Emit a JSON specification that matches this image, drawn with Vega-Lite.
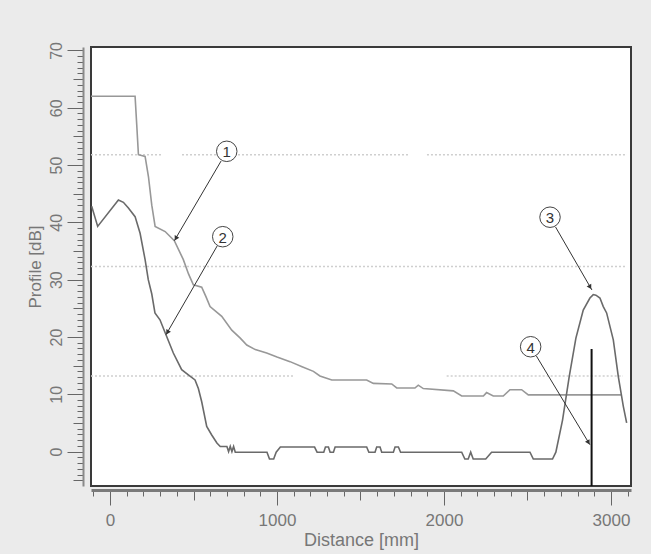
{
  "$schema": "https://vega.github.io/schema/vega-lite/v6.json",
  "width": 540,
  "height": 439,
  "autosize": {"type": "none"},
  "padding": {"left": 91, "top": 47, "right": 20, "bottom": 68},
  "background": "#ebebeb",
  "config": {
    "view": {"stroke": "#3a3a3a", "strokeWidth": 2, "fill": "white"},
    "font": "Liberation Sans"
  },
  "resolve": {"axis": {"x": "independent", "y": "independent"}},
  "datasets": {
    "tvt": [
      {"d": -114, "v": 62.0}, {"d": 150, "v": 62.0}, {"d": 160, "v": 57.0}, {"d": 170, "v": 51.8},
      {"d": 210, "v": 51.5}, {"d": 230, "v": 48.0}, {"d": 250, "v": 43.0}, {"d": 270, "v": 39.3},
      {"d": 330, "v": 38.4}, {"d": 385, "v": 36.8}, {"d": 439, "v": 33.5}, {"d": 470, "v": 31.0},
      {"d": 499, "v": 29.1}, {"d": 549, "v": 28.7}, {"d": 575, "v": 27.0}, {"d": 599, "v": 25.3},
      {"d": 669, "v": 23.6}, {"d": 729, "v": 21.2}, {"d": 780, "v": 19.8}, {"d": 819, "v": 18.6},
      {"d": 870, "v": 17.8}, {"d": 938, "v": 17.2}, {"d": 1000, "v": 16.5}, {"d": 1078, "v": 15.7},
      {"d": 1150, "v": 14.8}, {"d": 1218, "v": 14.0}, {"d": 1257, "v": 13.2}, {"d": 1297, "v": 12.8},
      {"d": 1328, "v": 12.5}, {"d": 1537, "v": 12.5}, {"d": 1577, "v": 11.9}, {"d": 1687, "v": 11.8},
      {"d": 1717, "v": 11.1}, {"d": 1826, "v": 11.1}, {"d": 1846, "v": 11.6}, {"d": 1876, "v": 11.0},
      {"d": 2056, "v": 10.6}, {"d": 2106, "v": 9.7}, {"d": 2236, "v": 9.7}, {"d": 2255, "v": 10.3},
      {"d": 2295, "v": 9.7}, {"d": 2355, "v": 9.7}, {"d": 2395, "v": 10.8}, {"d": 2465, "v": 10.8},
      {"d": 2505, "v": 9.9}, {"d": 3064, "v": 9.9}
    ],
    "profile": [
      {"d": -110, "v": 42.8}, {"d": -74, "v": 39.3}, {"d": 50, "v": 43.9}, {"d": 80, "v": 43.5},
      {"d": 110, "v": 42.5}, {"d": 150, "v": 41.0}, {"d": 180, "v": 38.1}, {"d": 210, "v": 33.5},
      {"d": 229, "v": 30.0}, {"d": 250, "v": 27.5}, {"d": 269, "v": 24.2}, {"d": 299, "v": 23.0},
      {"d": 335, "v": 20.4}, {"d": 379, "v": 17.2}, {"d": 429, "v": 14.3}, {"d": 469, "v": 13.4},
      {"d": 509, "v": 12.5}, {"d": 529, "v": 11.0}, {"d": 549, "v": 8.7}, {"d": 579, "v": 4.4},
      {"d": 609, "v": 2.9}, {"d": 640, "v": 1.5}, {"d": 660, "v": 0.9}, {"d": 700, "v": 0.9},
      {"d": 710, "v": 0.0}, {"d": 720, "v": 0.9}, {"d": 730, "v": 0.0}, {"d": 740, "v": 0.9},
      {"d": 750, "v": -0.1}, {"d": 940, "v": -0.1}, {"d": 955, "v": -1.3}, {"d": 980, "v": -1.3},
      {"d": 995, "v": -0.1}, {"d": 1020, "v": 0.8}, {"d": 1225, "v": 0.8}, {"d": 1240, "v": -0.1},
      {"d": 1280, "v": -0.1}, {"d": 1290, "v": 0.8}, {"d": 1308, "v": 0.8}, {"d": 1318, "v": -0.1},
      {"d": 1338, "v": -0.1}, {"d": 1348, "v": 0.8}, {"d": 1537, "v": 0.8}, {"d": 1550, "v": -0.1},
      {"d": 1587, "v": -0.1}, {"d": 1597, "v": 0.8}, {"d": 1617, "v": 0.8}, {"d": 1627, "v": -0.1},
      {"d": 1697, "v": -0.1}, {"d": 1707, "v": 0.8}, {"d": 1727, "v": 0.8}, {"d": 1740, "v": -0.1},
      {"d": 2106, "v": -0.1}, {"d": 2125, "v": -1.3}, {"d": 2145, "v": -1.3}, {"d": 2160, "v": -0.1},
      {"d": 2175, "v": -1.3}, {"d": 2250, "v": -1.3}, {"d": 2285, "v": -0.1}, {"d": 2515, "v": -0.1},
      {"d": 2535, "v": -1.3}, {"d": 2650, "v": -1.3}, {"d": 2670, "v": -0.1}, {"d": 2710, "v": 5.5},
      {"d": 2750, "v": 13.1}, {"d": 2790, "v": 19.8}, {"d": 2834, "v": 24.7}, {"d": 2874, "v": 26.8},
      {"d": 2894, "v": 27.4}, {"d": 2910, "v": 27.3}, {"d": 2934, "v": 26.8}, {"d": 2954, "v": 25.3},
      {"d": 2974, "v": 24.2}, {"d": 3014, "v": 19.5}, {"d": 3044, "v": 13.1}, {"d": 3074, "v": 7.9},
      {"d": 3094, "v": 5.0}
    ],
    "grid": [
      {"d": -114, "d2": 317, "v": 51.8}, {"d": 431, "d2": 1796, "v": 51.8}, {"d": 1898, "d2": 3096, "v": 51.8},
      {"d": -114, "d2": 3090, "v": 32.3},
      {"d": -114, "d2": 1096, "v": 13.2}, {"d": 2016, "d2": 3072, "v": 13.2}
    ],
    "marker": [{"d": 2884, "v": -6, "v2": 17.9}],
    "callouts": [
      {"n": "1", "d": 699, "v": 52.4}, {"n": "2", "d": 675, "v": 37.5},
      {"n": "3", "d": 2635, "v": 40.9}, {"n": "4", "d": 2519, "v": 18.3}
    ],
    "leaders": [
      {"n": "1", "d": 665, "v": 50.7, "d2": 385, "v2": 36.8},
      {"n": "2", "d": 642, "v": 35.9, "d2": 335, "v2": 20.4},
      {"n": "3", "d": 2668, "v": 39.2, "d2": 2886, "v2": 28.2},
      {"n": "4", "d": 2553, "v": 16.7, "d2": 2874, "v2": 1.2}
    ],
    "arrows": [
      {"n": "1", "d": 394, "v": 37.2}, {"n": "2", "d": 344, "v": 20.8},
      {"n": "3", "d": 2875, "v": 28.7}, {"n": "4", "d": 2865, "v": 1.6}
    ]
  },
  "layer": [
    {
      "data": {"name": "grid"},
      "mark": {"type": "rule", "color": "#cfcfcf", "strokeWidth": 1.5, "strokeDash": [2, 2]},
      "encoding": {
        "x": {
          "field": "d", "type": "quantitative",
          "scale": {"domain": [-114, 3120], "nice": false, "zero": false},
          "axis": {
            "title": null, "orient": "bottom", "offset": 4,
            "values": [-100, 100, 200, 300, 400, 600, 700, 800, 900, 1100, 1200, 1300, 1400, 1600, 1700, 1800, 1900, 2100, 2200, 2300, 2400, 2600, 2700, 2800, 2900, 3100],
            "grid": false, "domain": false, "labels": false,
            "ticks": true, "tickColor": "#666", "tickWidth": 1, "tickSize": 6
          }
        },
        "x2": {"field": "d2"},
        "y": {
          "field": "v", "type": "quantitative",
          "scale": {"domain": [-6, 70.6], "nice": false, "zero": false},
          "axis": {
            "title": null, "orient": "left", "offset": 8,
            "values": [-4, -3, -2, -1, 1, 2, 3, 4, 6, 7, 8, 9, 11, 12, 13, 14, 16, 17, 18, 19, 21, 22, 23, 24, 26, 27, 28, 29, 31, 32, 33, 34, 36, 37, 38, 39, 41, 42, 43, 44, 46, 47, 48, 49, 51, 52, 53, 54, 56, 57, 58, 59, 61, 62, 63, 64, 66, 67, 68, 69],
            "grid": false, "domain": false, "labels": false,
            "ticks": true, "tickColor": "#666", "tickWidth": 1, "tickSize": 6
          }
        }
      }
    },
    {
      "data": {"name": "tvt"},
      "mark": {"type": "line", "color": "#989898", "strokeWidth": 1.6, "interpolate": "linear"},
      "encoding": {
        "x": {
          "field": "d", "type": "quantitative",
          "axis": {
            "title": null, "orient": "bottom", "offset": 4,
            "values": [500, 1500, 2500],
            "grid": false, "domain": false, "labels": false,
            "ticks": true, "tickColor": "#666", "tickWidth": 1, "tickSize": 10
          }
        },
        "y": {
          "field": "v", "type": "quantitative",
          "axis": {
            "title": null, "orient": "left", "offset": 8,
            "values": [-5, 5, 15, 25, 35, 45, 55, 65],
            "grid": false, "domain": false, "labels": false,
            "ticks": true, "tickColor": "#666", "tickWidth": 1, "tickSize": 10
          }
        }
      }
    },
    {
      "data": {"name": "profile"},
      "mark": {"type": "line", "color": "#6a6a6a", "strokeWidth": 1.6, "interpolate": "linear"},
      "encoding": {
        "x": {
          "field": "d", "type": "quantitative",
          "axis": {
            "title": "Distance [mm]", "orient": "bottom", "offset": 4,
            "values": [0, 1000, 2000, 3000],
            "format": "d",
            "grid": false,
            "domain": true, "domainColor": "#7a7a7a", "domainWidth": 3,
            "ticks": true, "tickColor": "#666", "tickWidth": 1, "tickSize": 15,
            "labelOverlap": false, "labelFlush": false,
            "labelFont": "Liberation Sans", "labelFontSize": 17, "labelColor": "#777",
            "labelPadding": 7,
            "titleFont": "Liberation Sans", "titleFontSize": 18, "titleColor": "#777", "titleFontWeight": "normal",
            "titlePadding": 3
          }
        },
        "y": {
          "field": "v", "type": "quantitative",
          "axis": {
            "title": "Profile [dB]", "orient": "left", "offset": 8,
            "values": [0, 10, 20, 30, 40, 50, 60, 70],
            "grid": false,
            "domain": true, "domainColor": "#8a8a8a", "domainWidth": 2,
            "ticks": true, "tickColor": "#666", "tickWidth": 1, "tickSize": 16,
            "labelOverlap": false, "labelFlush": false,
            "labelAngle": 270, "labelAlign": "center", "labelBaseline": "bottom",
            "labelFont": "Liberation Sans", "labelFontSize": 16, "labelColor": "#777",
            "labelPadding": 3,
            "titleFont": "Liberation Sans", "titleFontSize": 17, "titleColor": "#777", "titleFontWeight": "normal",
            "titlePadding": 4
          }
        }
      }
    },
    {
      "data": {"name": "marker"},
      "mark": {"type": "rule", "color": "#111", "strokeWidth": 2},
      "encoding": {
        "x": {"field": "d", "type": "quantitative", "axis": null},
        "y": {"field": "v", "type": "quantitative", "axis": null},
        "y2": {"field": "v2"}
      }
    },
    {
      "data": {"name": "leaders"},
      "mark": {"type": "rule", "color": "#333", "strokeWidth": 1},
      "encoding": {
        "x": {"field": "d", "type": "quantitative", "axis": null},
        "y": {"field": "v", "type": "quantitative", "axis": null},
        "x2": {"field": "d2"},
        "y2": {"field": "v2"}
      }
    },
    {
      "data": {"name": "arrows"},
      "transform": [{"filter": "datum.n === '1' || datum.n === '2'"}],
      "mark": {"type": "point", "shape": "triangle-up", "size": 28, "filled": true, "color": "#333", "opacity": 1, "angle": 210},
      "encoding": {
        "x": {"field": "d", "type": "quantitative", "axis": null},
        "y": {"field": "v", "type": "quantitative", "axis": null}
      }
    },
    {
      "data": {"name": "arrows"},
      "transform": [{"filter": "datum.n === '3' || datum.n === '4'"}],
      "mark": {"type": "point", "shape": "triangle-up", "size": 28, "filled": true, "color": "#333", "opacity": 1, "angle": 150},
      "encoding": {
        "x": {"field": "d", "type": "quantitative", "axis": null},
        "y": {"field": "v", "type": "quantitative", "axis": null}
      }
    },
    {
      "data": {"name": "callouts"},
      "mark": {"type": "point", "shape": "circle", "size": 420, "filled": true, "fill": "white", "stroke": "#444", "strokeWidth": 1, "opacity": 1},
      "encoding": {
        "x": {"field": "d", "type": "quantitative", "axis": null},
        "y": {"field": "v", "type": "quantitative", "axis": null}
      }
    },
    {
      "data": {"name": "callouts"},
      "mark": {"type": "text", "font": "Liberation Sans", "fontSize": 15, "color": "#333", "align": "center", "baseline": "middle", "dy": 1},
      "encoding": {
        "x": {"field": "d", "type": "quantitative", "axis": null},
        "y": {"field": "v", "type": "quantitative", "axis": null},
        "text": {"field": "n"}
      }
    }
  ]
}
